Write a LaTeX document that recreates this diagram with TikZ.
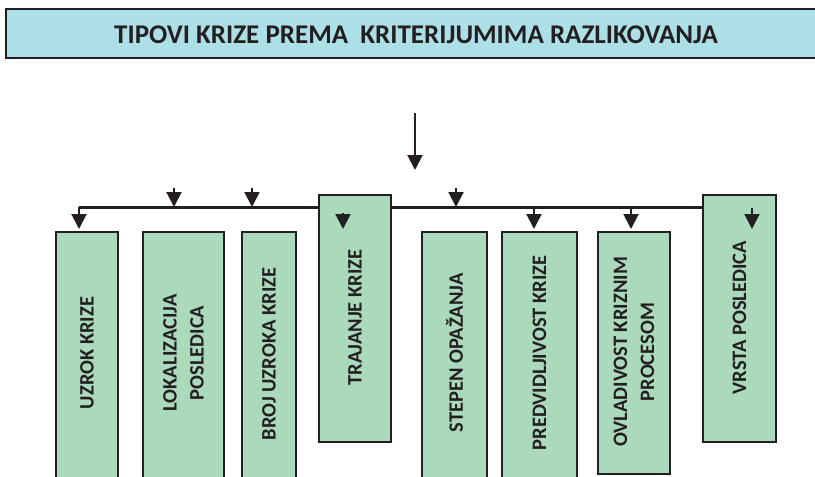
\documentclass[tikz,border=0pt]{standalone}
\usepackage{fontspec}
\setmainfont{Carlito}
\usetikzlibrary{arrows.meta,backgrounds}
\definecolor{boxgreen}{RGB}{171,217,188}
\definecolor{titleblue}{RGB}{173,223,230}
\definecolor{ink}{RGB}{35,31,32}
\begin{document}
\begin{tikzpicture}[x=1pt,y=-1pt,
  catbox/.style={draw=ink, line width=1.5pt, fill=boxgreen, inner sep=0pt, anchor=north},
  catlab/.style={rotate=90, align=center, text=ink, font=\bfseries\fontsize{20.5}{27}\selectfont},
  busline/.style={draw=ink, line width=3pt},
  arr/.style={draw=ink, line width=2pt, -{Triangle[length=15pt,width=15pt]}},
  arrtobox/.style={arr, shorten >=2pt}
]
\useasboundingbox (0,0) rectangle (815,477);
\clip (0,0) rectangle (815,477);
% title
\node[draw=ink, line width=2pt, fill=titleblue, minimum width=820pt, minimum height=49pt, anchor=north west, inner sep=0pt] (title) at (5,8) {};
\node[text=ink, font=\bfseries\fontsize{27}{30}\selectfont] (titletext) at (416,35) {TIPOVI KRIZE PREMA\ \ KRITERIJUMIMA RAZLIKOVANJA};
% boxes
\node[catbox, minimum width=62pt, minimum height=252pt] (uzrok) at (87,231) {};
\node[catlab] at (87,353) {UZROK KRIZE};
\node[catbox, minimum width=81pt, minimum height=246pt] (lok) at (183.5,231) {};
\node[catlab] at (183.5,353) {LOKALIZACIJA\\POSLEDICA};
\node[catbox, minimum width=54pt, minimum height=252pt] (broj) at (269,231) {};
\node[catlab] at (269,354) {BROJ UZROKA KRIZE};
\node[catbox, minimum width=72pt, minimum height=247pt] (traj) at (355,194) {};
\node[catlab] at (355,317.5) {TRAJANJE KRIZE};
\node[catbox, minimum width=65pt, minimum height=252pt] (stepen) at (454.5,231) {};
\node[catlab] at (454.5,353) {STEPEN OPAŽANJA};
\node[catbox, minimum width=75pt, minimum height=252pt] (pred) at (539.5,231) {};
\node[catlab] at (539.5,353) {PREDVIDLJIVOST KRIZE};
\node[catbox, minimum width=72pt, minimum height=242pt] (ovlad) at (634,231) {};
\node[catlab] at (634,352) {OVLADIVOST KRIZNIM\\PROCESOM};
\node[catbox, minimum width=73pt, minimum height=247pt] (vrsta) at (739.5,194) {};
\node[catlab] at (739.5,317.5) {VRSTA POSLEDICA};
% trunk
\coordinate (trunktop) at (415,113);
\coordinate (trunkend) at (415,170);
\draw[arr] (trunktop) -- (trunkend);
% bus (behind the boxes)
\coordinate (busL) at (79,207);
\coordinate (busR) at (vrsta.west |- busL);
\begin{pgfonlayer}{background}
\draw[busline] (busR) -- (busL);
\end{pgfonlayer}
% stubs onto bus
\coordinate (s1) at (174,188);
\coordinate (s2) at (252,188);
\coordinate (s3) at (456,188);
\draw[arr] (s1) -- (s1 |- busL);
\draw[arr] (s2) -- (s2 |- busL);
\draw[arr] (s3) -- (s3 |- busL);
% arrows to boxes
\draw[arrtobox] (busL) -- (uzrok.north -| busL);
\coordinate (p1) at (534,207);
\draw[arrtobox] (p1) -- (pred.north -| p1);
\coordinate (o1) at (631,207);
\draw[arrtobox] (o1) -- (ovlad.north -| o1);
% arrows inside boxes
\coordinate (t1) at (343,213);
\coordinate (t2) at (343,229);
\draw[arr] (t1) -- (t2);
\coordinate (v1) at (752,208);
\coordinate (v2) at (752,229);
\draw[arr] (v1) -- (v2);
\end{tikzpicture}
\end{document}
